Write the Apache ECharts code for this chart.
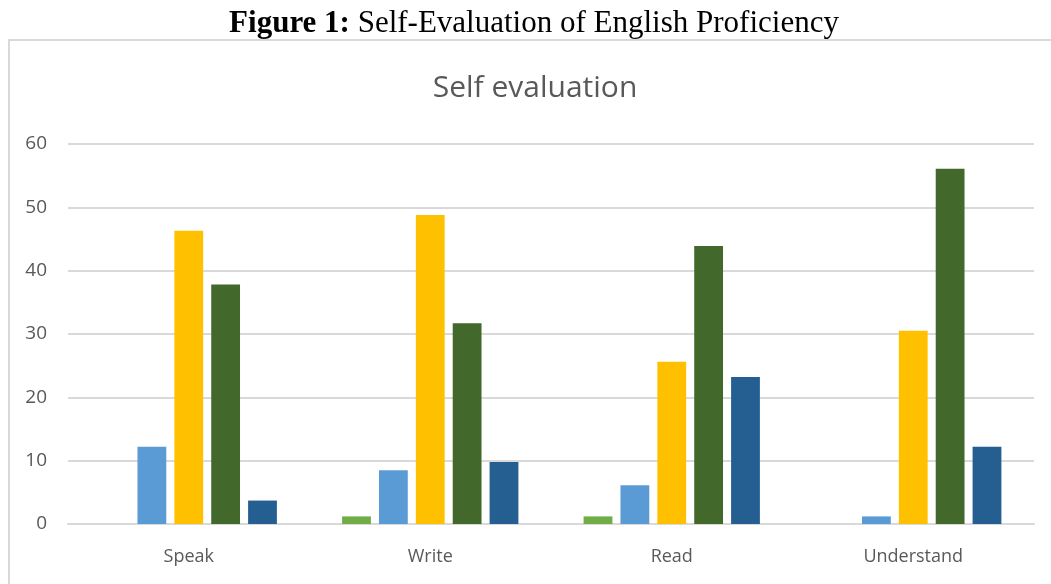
<!DOCTYPE html>
<html>
<head>
<meta charset="utf-8">
<script src="https://cdn.jsdelivr.net/npm/echarts@6/dist/echarts.min.js"></script>
<style>
  html, body { margin: 0; padding: 0; background: #fff; }
  #chart { width: 1051px; height: 584px; }
</style>
</head>
<body>
<div id="chart"></div>
<script>
// Skills rated by respondents
const categories = ['Speak', 'Write', 'Read', 'Understand'];

// Percentage of respondents per rating level (five levels)
const level1 = [0, 1.2, 1.2, 0];
const level2 = [12.2, 8.5, 6.1, 1.2];
const level3 = [46.3, 48.8, 25.6, 30.5];
const level4 = [37.8, 31.7, 43.9, 56.1];
const level5 = [3.7, 9.8, 23.2, 12.2];

const yTicks = [0, 10, 20, 30, 40, 50, 60];

const seriesData = [level1, level2, level3, level4, level5];
const seriesColors = ['#70AD47', '#5B9BD5', '#FFC000', '#43682B', '#255E91'];

const chart = echarts.init(document.getElementById('chart'));

chart.setOption({
  backgroundColor: '#fff',
  animation: false,
  title: [
    {
      text: '{b|Figure 1:} Self-Evaluation of English Proficiency',
      left: 529,
      textAlign: 'center',
      top: 3,
      textStyle: {
        fontFamily: 'Liberation Serif',
        fontSize: 31,
        fontWeight: 'normal',
        color: '#000',
        rich: {
          b: { fontFamily: 'Liberation Serif', fontSize: 31, fontWeight: 'bold', color: '#000' }
        }
      }
    },
    {
      text: 'Self evaluation',
      left: 530,
      textAlign: 'center',
      top: 68,
      textStyle: {
        fontFamily: 'Open Sans',
        fontSize: 30,
        fontWeight: 'normal',
        color: '#595959'
      }
    }
  ],
  graphic: [
    {
      type: 'rect',
      shape: { x: 9, y: 40, width: 1060, height: 560 },
      style: { fill: 'none', stroke: '#d9d9d9', lineWidth: 2 },
      silent: true
    }
  ],
  grid: { left: 68, right: 17, top: 144, bottom: 60 },
  xAxis: {
    type: 'category',
    data: categories,
    axisLine: { show: true, lineStyle: { color: '#d9d9d9', width: 2 } },
    axisTick: { show: false },
    axisLabel: {
      color: '#595959',
      fontFamily: 'Open Sans',
      fontSize: 18,
      margin: 24
    }
  },
  yAxis: {
    type: 'value',
    min: yTicks[0],
    max: yTicks[yTicks.length - 1],
    interval: 10,
    axisLine: { show: false },
    axisTick: { show: false },
    splitLine: { lineStyle: { color: '#d9d9d9', width: 2 } },
    axisLabel: {
      color: '#595959',
      fontFamily: 'Open Sans',
      fontSize: 19,
      margin: 21
    }
  },
  series: seriesData.map((d, i) => ({
    type: 'bar',
    data: d,
    barGap: '28%',
    barCategoryGap: '27%',
    itemStyle: { color: seriesColors[i] }
  }))
});
</script>
</body>
</html>
